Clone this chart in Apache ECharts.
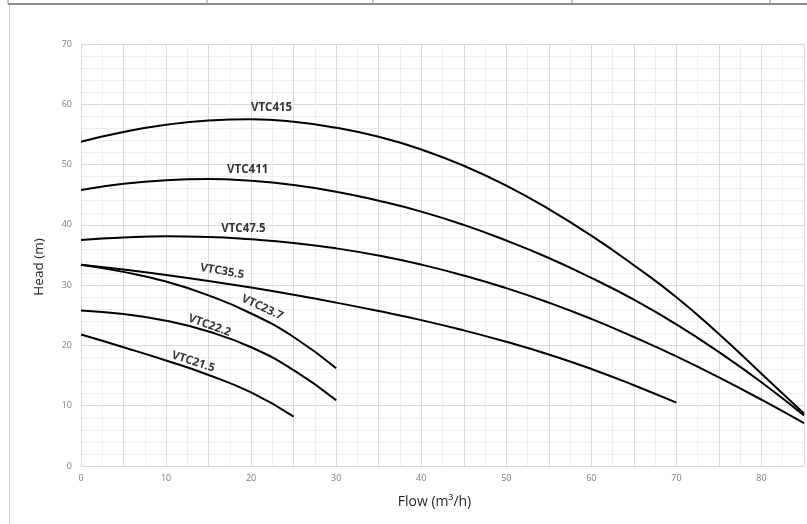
<!DOCTYPE html>
<html>
<head>
<meta charset="utf-8">
<script src="https://cdn.jsdelivr.net/npm/echarts@6/dist/echarts.min.js"></script>
<style>
html,body{margin:0;padding:0;background:#fff;}
#chart{width:807px;height:524px;}
</style>
</head>
<body>
<div id="chart"></div>
<script>
// ---- data ----
const flowLong = [0,5,10,15,20,25,30,35,40,45,50,55,60,65,70,75,80,85];
const headVTC415 = [53.8,55.4,56.6,57.3,57.5,57.1,56.1,54.6,52.5,49.8,46.5,42.6,38.2,33.3,28.0,21.9,15.3,8.7];
const headVTC411 = [45.8,46.8,47.4,47.6,47.3,46.6,45.5,44.0,42.2,40.0,37.4,34.5,31.2,27.6,23.5,18.9,13.9,8.4];
const headVTC475 = [37.5,37.9,38.1,38.0,37.6,37.0,36.1,34.9,33.4,31.6,29.5,27.1,24.4,21.4,18.2,14.7,11.0,7.1];
const flow70 = [0,5,10,15,20,25,30,35,40,45,50,55,60,65,70];
const headVTC355 = [33.4,32.6,31.7,30.7,29.6,28.4,27.1,25.7,24.2,22.5,20.6,18.5,16.1,13.4,10.5];
const flow30 = [0,5,10,15,20,25,30];
const headVTC237 = [33.4,32.2,30.6,28.3,25.3,21.4,16.2];
const headVTC222 = [25.8,25.2,24.1,22.3,19.7,15.9,10.9];
const flow25 = [0,5,10,15,20,25];
const headVTC215 = [21.8,19.7,17.5,15.1,12.2,8.2];

const curveNames = ['VTC415','VTC411','VTC47.5','VTC35.5','VTC23.7','VTC22.2','VTC21.5'];
const curveFlows = [flowLong, flowLong, flowLong, flow70, flow30, flow30, flow25];
const curveHeads = [headVTC415, headVTC411, headVTC475, headVTC355, headVTC237, headVTC222, headVTC215];

// label anchors (data coordinates) and text angles
const labelFlow = [22.4, 19.6, 19.1, 16.6, 21.3, 15.1, 13.2];
const labelHead = [59.4, 49.2, 39.4, 32.3, 26.3, 23.3, 17.3];
const labelAngle = [0, 0, 0, -10, -25, -20, -18];

const xTitle = 'Flow (m³/h)';
const yTitle = 'Head (m)';

// ---- chart ----
const chart = echarts.init(document.getElementById('chart'), null, {renderer:'canvas'});
const FONT = '"Open Sans", Lato, sans-serif';

const series = curveNames.map((name, i) => ({
  name: name,
  type: 'line',
  smooth: 0.5,
  showSymbol: false,
  symbol: 'none',
  silent: true,
  lineStyle: {color: '#000', width: 2},
  data: curveFlows[i].map((f, j) => [f, curveHeads[i][j]]),
  z: 3
}));

series.push({
  type: 'scatter',
  symbolSize: 0,
  silent: true,
  z: 5,
  data: curveNames.map((name, i) => ({
    value: [labelFlow[i], labelHead[i]],
    label: {
      show: true,
      position: 'inside',
      formatter: name,
      rotate: labelAngle[i],
      color: '#000',
      fontFamily: FONT,
      fontWeight: 'bold',
      fontSize: 11.5
    }
  }))
});

chart.setOption({
  animation: false,
  backgroundColor: '#fff',
  grid: {left: 81, right: 0, top: 44, bottom: 58, containLabel: false},
  xAxis: {
    type: 'value', min: 0, max: 85, interval: 5,
    name: xTitle, nameLocation: 'middle', nameGap: 29,
    nameTextStyle: {color: '#262626', fontSize: 14, fontFamily: FONT, padding: [0, 16, 0, 0]},
    axisLine: {show: true, lineStyle: {color: '#d9d9d9', width: 1}},
    axisTick: {show: false},
    axisLabel: {
      color: '#7f7f7f', fontSize: 9, fontFamily: FONT, margin: 8,
      formatter: v => (v % 10 === 0 ? String(v) : '')
    },
    splitLine: {show: true, lineStyle: {color: '#d9d9d9', width: 1}},
    minorTick: {show: false, splitNumber: 2},
    minorSplitLine: {show: true, lineStyle: {color: '#efefef', width: 1}}
  },
  yAxis: {
    type: 'value', min: 0, max: 70, interval: 10,
    name: yTitle, nameLocation: 'middle', nameGap: 35,
    nameTextStyle: {color: '#262626', fontSize: 13.5, fontFamily: FONT, padding: [0, 24, 0, 0]},
    axisLine: {show: true, lineStyle: {color: '#d9d9d9', width: 1}},
    axisTick: {show: false},
    axisLabel: {color: '#7f7f7f', fontSize: 9, fontFamily: FONT, margin: 9},
    splitLine: {show: true, lineStyle: {color: '#d9d9d9', width: 1}},
    minorTick: {show: false, splitNumber: 5},
    minorSplitLine: {show: true, lineStyle: {color: '#efefef', width: 1}}
  },
  graphic: [
    {type: 'line', silent: true, shape: {x1: 8, y1: 4, x2: 807, y2: 4}, style: {stroke: '#8c8c8c', lineWidth: 2}},
    {type: 'line', silent: true, shape: {x1: 8, y1: 0, x2: 8, y2: 4}, style: {stroke: '#8c8c8c', lineWidth: 1}},
    {type: 'line', silent: true, shape: {x1: 207, y1: 0, x2: 207, y2: 4}, style: {stroke: '#8c8c8c', lineWidth: 1}},
    {type: 'line', silent: true, shape: {x1: 373, y1: 0, x2: 373, y2: 4}, style: {stroke: '#8c8c8c', lineWidth: 1}},
    {type: 'line', silent: true, shape: {x1: 572, y1: 0, x2: 572, y2: 4}, style: {stroke: '#8c8c8c', lineWidth: 1}},
    {type: 'line', silent: true, shape: {x1: 770, y1: 0, x2: 770, y2: 4}, style: {stroke: '#8c8c8c', lineWidth: 1}},
    {type: 'line', silent: true, shape: {x1: 9.5, y1: 5, x2: 9.5, y2: 524}, style: {stroke: '#d0d0d0', lineWidth: 1}}
  ],
  series: series
});
</script>
</body>
</html>
